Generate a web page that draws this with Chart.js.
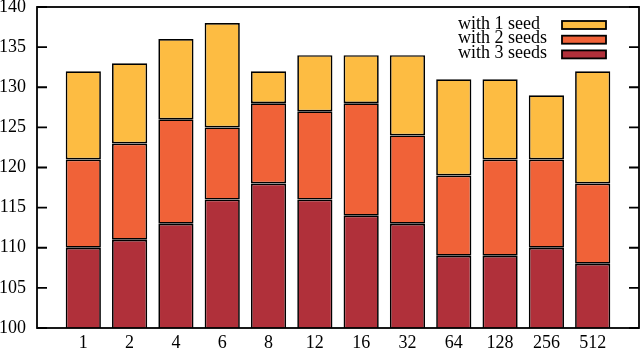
<!DOCTYPE html>
<html lang="en">
<head>
    <meta charset="UTF-8">
    <title>Seeds per instance</title>
    <script src="https://cdn.jsdelivr.net/npm/chart.js"></script>
    <style>
        html, body {
            margin: 0;
            padding: 0;
            background: #fff;
        }

        .chart-container {
            width: 640px;
            height: 350px;
        }
    </style>
</head>
<body>
    <div class="chart-container">
        <canvas id="seedChart" width="640" height="350"></canvas>
    </div>

    <script>
        // x categories
        const categories = ['1', '2', '4', '6', '8', '12', '16', '32', '64', '128', '256', '512'];

        // bar tops (cumulative heights)
        const top3Seeds = [110, 111, 113, 116, 118, 116, 114, 113, 109, 109, 110, 108];
        const top2Seeds = [121, 123, 126, 125, 128, 127, 128, 124, 119, 121, 121, 118];
        const top1Seed  = [132, 133, 136, 138, 132, 134, 134, 134, 131, 131, 129, 132];

        const yTicks = [100, 105, 110, 115, 120, 125, 130, 135, 140];

        const serif = '"Liberation Serif", "DejaVu Serif", serif';

        // stacked segments: each dataset adds on top of the one below
        const seg3 = top3Seeds.map((v, i) => ({ x: i, y: v }));
        const seg2 = top2Seeds.map((v, i) => ({ x: i, y: v - top3Seeds[i] }));
        const seg1 = top1Seed.map((v, i) => ({ x: i, y: v - top2Seeds[i] }));

        // frame, inward y ticks and the legend, gnuplot style
        const framePlugin = {
            id: 'frame',
            afterDraw(chart) {
                const ctx = chart.ctx;
                const area = chart.chartArea;
                const y = chart.scales.y;
                ctx.save();
                ctx.strokeStyle = '#000';
                ctx.lineWidth = 1.8;
                ctx.strokeRect(area.left, area.top, area.right - area.left, area.bottom - area.top);

                ctx.beginPath();
                yTicks.forEach(t => {
                    const py = y.getPixelForValue(t);
                    ctx.moveTo(area.left, py);
                    ctx.lineTo(area.left + 10, py);
                    ctx.moveTo(area.right, py);
                    ctx.lineTo(area.right - 10, py);
                });
                ctx.stroke();

                // legend, top entry is the last dataset
                const ds = chart.data.datasets.slice().reverse();
                ctx.font = '18px ' + serif;
                ctx.textAlign = 'left';
                ctx.textBaseline = 'middle';
                ds.forEach((d, i) => {
                    const cy = 25 + i * 14.7;
                    ctx.fillStyle = '#000';
                    ctx.fillText(d.label, 458, cy - 1);
                    ctx.fillStyle = d.backgroundColor;
                    ctx.fillRect(562, cy - 4, 44, 8);
                    ctx.lineWidth = 1.8;
                    ctx.strokeRect(562, cy - 4, 44, 8);
                });
                ctx.restore();
            }
        };

        const ctx = document.getElementById('seedChart').getContext('2d');
        const seedChart = new Chart(ctx, {
            type: 'bar',
            data: {
                datasets: [{
                    label: 'with 3 seeds',
                    data: seg3,
                    backgroundColor: '#b0303a',
                }, {
                    label: 'with 2 seeds',
                    data: seg2,
                    backgroundColor: '#f06238',
                }, {
                    label: 'with 1 seed',
                    data: seg1,
                    backgroundColor: '#fdbc42',
                }],
            },
            options: {
                responsive: false,
                animation: false,
                layout: {
                    padding: { top: 7, right: 1, left: 0, bottom: 0 },
                },
                datasets: {
                    bar: {
                        borderColor: '#000',
                        borderWidth: 1.7,
                        borderSkipped: false,
                        barPercentage: 0.76,
                        categoryPercentage: 1,
                    },
                },
                plugins: {
                    legend: { display: false },
                    tooltip: { enabled: false },
                },
                scales: {
                    x: {
                        type: 'linear',
                        stacked: true,
                        min: -1,
                        max: 12,
                        offset: false,
                        grid: { display: false, drawTicks: false, offset: false },
                        border: { display: false },
                        afterBuildTicks: (scale) => {
                            scale.ticks = categories.map((c, i) => ({ value: i }));
                        },
                        afterFit: (scale) => {
                            scale.height = 22;
                            scale.paddingLeft = 0;
                            scale.paddingRight = 0;
                        },
                        ticks: {
                            autoSkip: false,
                            maxRotation: 0,
                            padding: 4,
                            color: '#000',
                            font: { family: serif, size: 18 },
                            callback: (v) => categories[v] || '',
                        },
                    },
                    y: {
                        stacked: true,
                        min: 100,
                        max: 140,
                        grid: { display: false, drawTicks: false },
                        border: { display: false },
                        afterBuildTicks: (scale) => {
                            scale.ticks = yTicks.map(v => ({ value: v }));
                        },
                        afterFit: (scale) => {
                            scale.width = 37;
                            scale.paddingTop = 0;
                            scale.paddingBottom = 0;
                        },
                        ticks: {
                            padding: 11,
                            color: '#000',
                            font: { family: serif, size: 18 },
                        },
                    },
                },
            },
            plugins: [framePlugin],
        });
    </script>
</body>
</html>
